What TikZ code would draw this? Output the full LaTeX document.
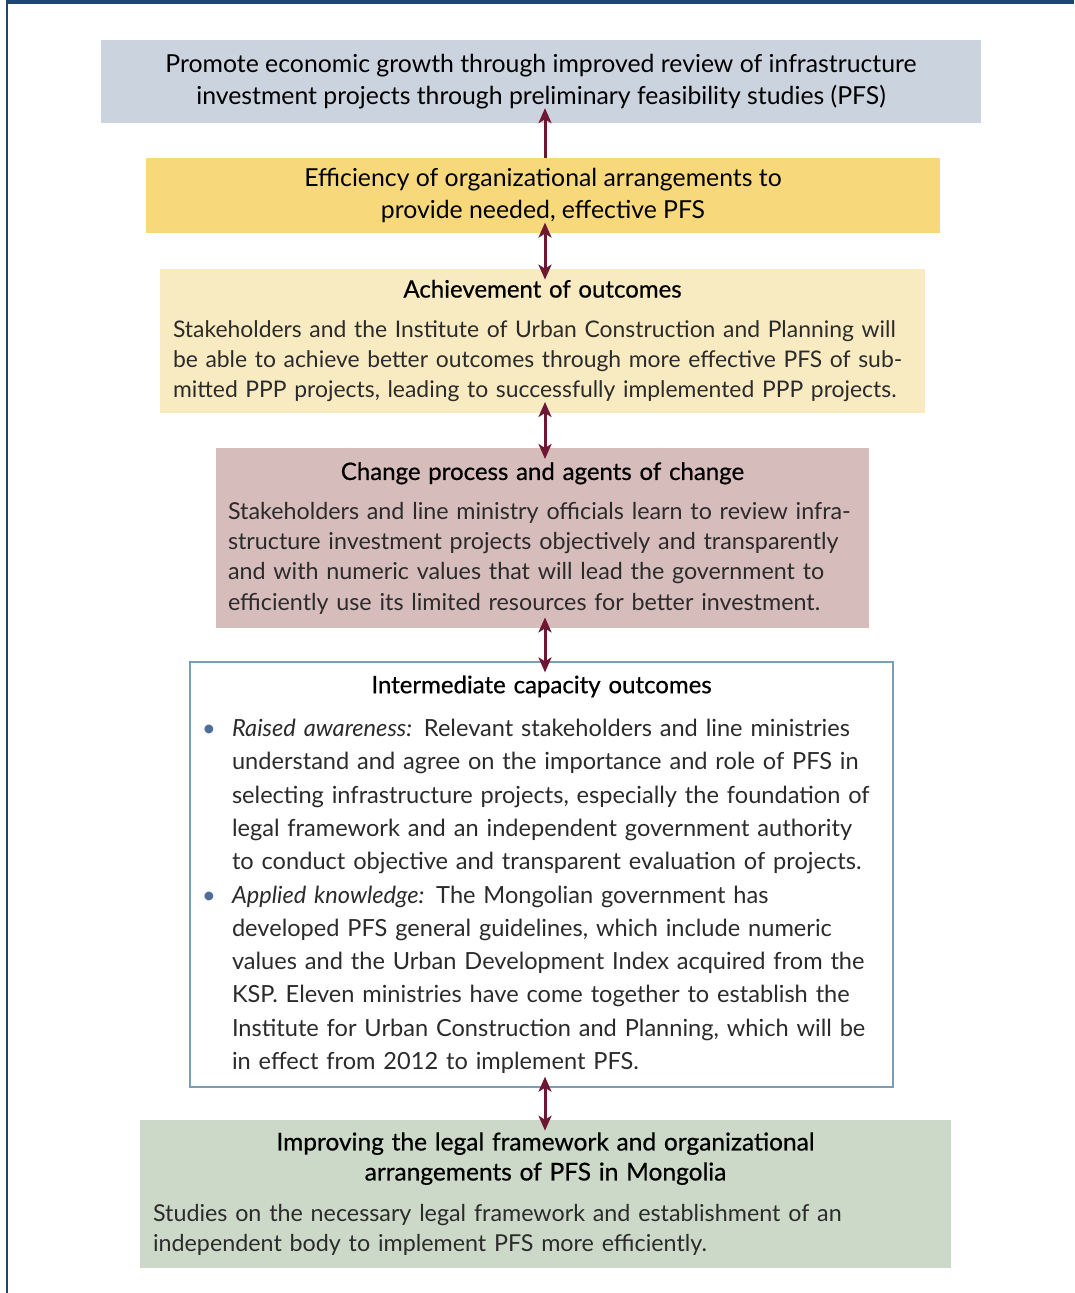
\documentclass[tikz,border=0pt]{standalone}
\usepackage{fontspec}
\setmainfont{Lato}
\newfontfamily\headfont{Lato}[FakeBold=0.6]
\usepackage{tikz}
\usetikzlibrary{arrows.meta,positioning}

\definecolor{frameblue}{HTML}{1D4770}
\definecolor{goalfill}{HTML}{CBD3DF}
\definecolor{efffill}{HTML}{F7D97B}
\definecolor{achfill}{HTML}{F9EBC1}
\definecolor{chgfill}{HTML}{D6BCBA}
\definecolor{interline}{HTML}{7B9EB8}
\definecolor{legalfill}{HTML}{CCD9C8}
\definecolor{linkred}{HTML}{6D1732}
\definecolor{bulblue}{HTML}{4F6E96}
\definecolor{bodygray}{HTML}{2B2B2B}

\newcommand{\itm}{\makebox[32pt][l]{\hspace{2pt}{\color{bulblue}\textbullet}}}
\newcommand{\ind}{\hspace*{32pt}}

\begin{document}
\begin{tikzpicture}[x=1pt,y=-1pt,>={Stealth[length=15pt,width=13pt,inset=4pt]},
  node distance=35pt,
  box/.style={rectangle,inner ysep=0pt,text=bodygray},
  link/.style={<->,draw=linkred,line width=3pt,shorten <=-11pt,shorten >=-11pt}]
  \useasboundingbox (0,0) rectangle (1074,1293);
  % frame
  \draw[frameblue,line width=2pt] (7,0) -- (7,1293);
  \fill[frameblue] (6,0) rectangle (1074,3.5);
  \coordinate (axis) at (545,0);

  \node[box,fill=goalfill,minimum width=880pt,minimum height=83pt,align=center,
        text=black,font=\fontsize{24.8}{32}\selectfont] (goal) at (541,81.5)
    {Promote economic growth through improved review of infrastructure\\
     investment projects through preliminary feasibility studies (PFS)};

  \node[box,fill=efffill,minimum width=794pt,minimum height=75pt,align=center,
        text=black,font=\fontsize{24.8}{32}\selectfont,below=of goal,xshift=2pt] (eff)
    {Efficiency of organizational arrangements to\\
     provide needed, effective PFS};

  \node[box,fill=achfill,minimum width=765pt,minimum height=144pt,inner xsep=12pt,
        text width=741pt,align=left,font=\fontsize{22.9}{30}\selectfont,
        below=of eff,xshift=-0.5pt] (ach)
    {\centerline{\color{black}\headfont\fontsize{24}{30}\selectfont Achievement of outcomes}\vspace{10pt}
     \hspace*{1pt}Stakeholders and the Institute of Urban Construction and Planning will\\
     \hspace*{1pt}be able to achieve better outcomes through more effective PFS of sub-\\
     \hspace*{1pt}mitted PPP projects, leading to successfully implemented PPP projects.};

  \node[box,fill=chgfill,minimum width=653pt,minimum height=180pt,inner xsep=12pt,
        text width=629pt,align=left,font=\fontsize{23.3}{30.3}\selectfont,
        below=of ach] (chg)
    {\centerline{\color{black}\headfont\fontsize{24}{30}\selectfont Change process and agents of change}\vspace{9pt}
     Stakeholders and line ministry officials learn to review infra-\\
     structure investment projects objectively and transparently\\
     and with numeric values that will lead the government to\\
     efficiently use its limited resources for better investment.};

  \node[box,draw=interline,line width=1.3pt,fill=white,minimum width=703pt,
        minimum height=425pt,inner xsep=10pt,text width=683pt,align=left,
        font=\fontsize{23.6}{33.3}\selectfont,below=33pt of chg,xshift=-1pt] (inter)
    {\centerline{\color{black}\headfont\fontsize{24}{33}\selectfont Intermediate capacity outcomes}\vspace{10pt}
     \itm\textit{Raised awareness:} Relevant stakeholders and line ministries\\
     \ind understand and agree on the importance and role of PFS in\\
     \ind selecting infrastructure projects, especially the foundation of\\
     \ind legal framework and an independent government authority\\
     \ind to conduct objective and transparent evaluation of projects.\\
     \itm\textit{Applied knowledge:} The Mongolian government has\\
     \ind developed PFS general guidelines, which include numeric\\
     \ind values and the Urban Development Index acquired from the\\
     \ind KSP. Eleven ministries have come together to establish the\\
     \ind Institute for Urban Construction and Planning, which will be\\
     \ind in effect from 2012 to implement PFS.};

  \node[box,fill=legalfill,minimum width=811pt,minimum height=148pt,inner xsep=13pt,
        text width=785pt,align=left,font=\fontsize{23.3}{30}\selectfont,
        below=32pt of inter,xshift=4pt] (legal)
    {{\color{black}\headfont\fontsize{24.5}{29}\selectfont
      \centerline{Improving the legal framework and organizational}
      \centerline{arrangements of PFS in Mongolia}}\vspace{11pt}
     Studies on the necessary legal framework and establishment of an\\
     independent body to implement PFS more efficiently.};

  % connectors
  \draw[link,<-,shorten <=-15pt,shorten >=0pt] (goal.south -| axis) -- (eff.north -| axis);
  \draw[link] (eff.south -| axis) -- (ach.north -| axis);
  \draw[link] (ach.south -| axis) -- (chg.north -| axis);
  \draw[link] (chg.south -| axis) -- (inter.north -| axis);
  \draw[link] (inter.south -| axis) -- (legal.north -| axis);
\end{tikzpicture}
\end{document}
